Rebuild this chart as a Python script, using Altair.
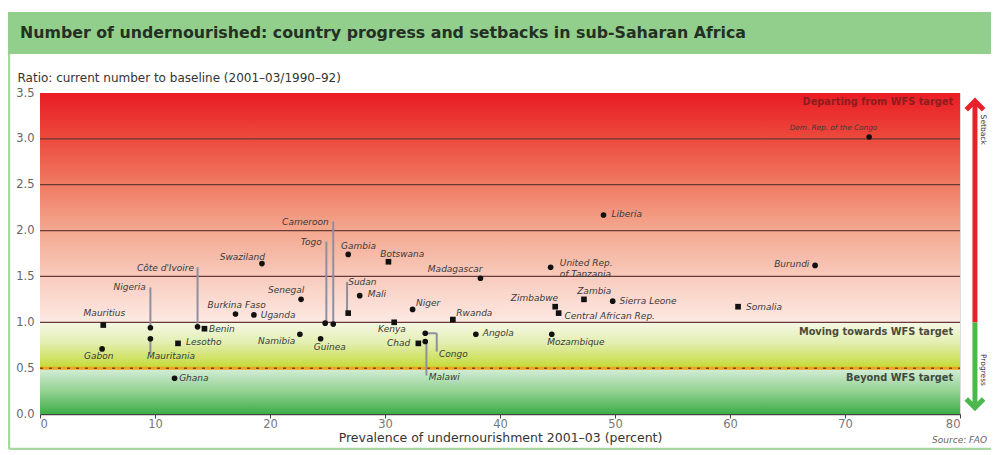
import altair as alt
import pandas as pd

# ---------------- data ----------------
countries = ["Mauritius", "Gabon", "Nigeria", "Mauritania", "Ghana", "Lesotho",
             "Côte d'Ivoire", "Benin", "Burkina Faso", "Uganda", "Swaziland",
             "Senegal", "Namibia", "Guinea", "Togo", "Cameroon", "Gambia", "Sudan",
             "Mali", "Botswana", "Kenya", "Niger", "Chad", "Congo", "Malawi",
             "Rwanda", "Angola", "Madagascar", "United Rep. of Tanzania",
             "Mozambique", "Zimbabwe", "Central African Rep.", "Zambia", "Liberia",
             "Sierra Leone", "Somalia", "Burundi", "Dem. Rep. of the Congo"]
prevalence = [5.5, 5.4, 9.6, 9.6, 11.7, 12.0, 13.7, 14.3, 17.0, 18.6, 19.3,
              22.7, 22.6, 24.4, 24.8, 25.5, 26.8, 26.8, 27.8, 30.3, 30.8, 32.4,
              32.9, 33.5, 33.5, 35.9, 37.9, 38.3, 44.4, 44.5, 44.8, 45.1, 47.3,
              49.0, 49.8, 60.7, 67.4, 72.1]
ratio = [0.97, 0.71, 0.94, 0.82, 0.39, 0.77, 0.95, 0.93, 1.09, 1.08, 1.64,
         1.25, 0.87, 0.82, 0.99, 0.98, 1.74, 1.10, 1.29, 1.66, 1.00, 1.14,
         0.77, 0.88, 0.79, 1.03, 0.87, 1.48, 1.60, 0.87, 1.17, 1.10, 1.25,
         2.17, 1.23, 1.17, 1.62, 3.02]
marker = ["square", "circle", "circle", "circle", "circle", "square",
          "circle", "square", "circle", "circle", "circle",
          "circle", "circle", "circle", "circle", "circle", "circle", "square",
          "circle", "square", "square", "circle",
          "square", "circle", "circle", "square", "circle", "circle", "circle",
          "circle", "square", "square", "square",
          "circle", "circle", "square", "circle", "circle"]

# label anchor placement (data units) for each country label
label_x = [5.6, 5.1, 9.2, 9.3, 12.1, 12.7, 13.4, 14.7, 17.1, 19.2, 17.6,
           21.4, 22.2, 25.2, 24.5, 25.1, 27.7, 26.8, 28.5, 31.5, 30.6, 32.7,
           32.2, 34.7, 33.8, 36.2, 38.5, 36.1, 45.2, 44.1, 43.0, 45.6, 48.2,
           49.7, 50.4, 61.4, 66.9, 69.0]
label_y = [1.10, 0.63, 1.38, 0.63, 0.39, 0.78, 1.59, 0.93, 1.19, 1.08, 1.71,
           1.35, 0.80, 0.73, 1.88, 2.09, 1.83, 1.44, 1.31, 1.74, 0.93, 1.21,
           0.77, 0.65, 0.40, 1.10, 0.88, 1.58, 1.645, 0.78, 1.26, 1.07, 1.34,
           2.18, 1.23, 1.17, 1.64, 3.12]
label_align = ["center", "center", "right", "left", "left", "left",
               "right", "left", "center", "left", "center",
               "center", "right", "center", "right", "right", "center", "left",
               "left", "center", "center", "left",
               "right", "left", "left", "left", "left", "center", "left",
               "left", "center", "left", "center",
               "left", "left", "left", "right", "center"]

# leader lines (x, from, to) in data units
lead_x1 = [9.6, 9.6, 13.7, 24.9, 25.5, 26.7, 34.5, 33.6, 33.5]
lead_x2 = [9.6, 9.6, 13.7, 24.9, 25.5, 26.7, 34.5, 33.6, 34.5]
lead_y1 = [1.38, 0.82, 1.60, 1.88, 2.10, 1.44, 0.88, 0.78, 0.88]
lead_y2 = [0.95, 0.66, 0.96, 1.00, 0.99, 1.10, 0.68, 0.42, 0.88]

grid_levels = [1.0, 1.5, 2.0, 2.5, 3.0]
zone_text = ["Departing from WFS target", "Moving towards WFS target", "Beyond WFS target"]
zone_y = [3.40, 0.89, 0.39]
zone_color = ["#8c1d1d", "#4a4a3c", "#3d4a3d"]

x_ticks = [0, 10, 20, 30, 40, 50, 60, 70, 80]
y_ticks = [0.0, 0.5, 1.0, 1.5, 2.0, 2.5, 3.0, 3.5]

FONT = "DejaVu Sans"

labels = [c.replace("United Rep. of Tanzania", "United Rep.\nof Tanzania") for c in countries]
pts = pd.DataFrame({"country": countries, "prev": prevalence, "ratio": ratio,
                    "marker": marker, "label": labels, "lx": label_x, "ly": label_y,
                    "align": label_align})
leads = pd.DataFrame({"x1": lead_x1, "x2": lead_x2, "y1": lead_y1, "y2": lead_y2})
grid = pd.DataFrame({"y": grid_levels})
zones = pd.DataFrame({"t": zone_text, "y": zone_y, "c": zone_color})
one = pd.DataFrame({"k": [0]})  # single row for decorative marks

xs = alt.Scale(domain=[0, 80], nice=False, zero=False)
ys = alt.Scale(domain=[0, 3.5], nice=False, zero=False)

X = lambda f: alt.X(f, type="quantitative", scale=xs,
                    axis=alt.Axis(values=x_ticks, title="Prevalence of undernourishment 2001–03 (percent)",
                                  grid=False, domain=True, domainColor="#444", domainWidth=1.5,
                                  tickColor="#444", tickSize=4, labelPadding=0,
                                  labelFont=FONT, labelFontSize=11.5, labelColor="#777",
                                  titleFont=FONT, titleFontSize=12.5, titleColor="#333",
                                  titleFontWeight="normal", titlePadding=2))
Y = lambda f: alt.Y(f, type="quantitative", scale=ys,
                    axis=alt.Axis(values=y_ticks, format=".1f", grid=False, domain=False,
                                  ticks=False, labelPadding=6, labelFont=FONT,
                                  labelFontSize=11.5, labelColor="#666",
                                  title="Ratio: current number to baseline (2001–03/1990–92)",
                                  titleAngle=0, titleAlign="left", titleBaseline="middle",
                                  titleX=-23, titleY=-16, titleFont=FONT, titleFontSize=12,
                                  titleColor="#333", titleFontWeight="normal"))


def grad(stops):
    return alt.Gradient(gradient="linear", x1=0, x2=0, y1=0, y2=1,
                        stops=[alt.GradientStop(offset=o, color=c) for o, c in stops])


base = alt.Chart(pts)
deco = alt.Chart(one)

red_zone = deco.mark_rect(fill=grad([(0, "#ea1c24"), (0.2, "#ec4a3d"), (0.4, "#f07b63"),
                                     (0.6, "#f4a890"), (0.8, "#f8cbbd"), (1, "#fde9e3")])).encode(
    x=alt.datum(0, scale=xs), x2=alt.datum(80), y=alt.datum(3.5, scale=ys), y2=alt.datum(1.0))
yel_zone = deco.mark_rect(fill=grad([(0, "#f5f8e6"), (0.45, "#e3eeb0"), (1, "#c4da34")])).encode(
    x=alt.datum(0, scale=xs), x2=alt.datum(80), y=alt.datum(1.0, scale=ys), y2=alt.datum(0.5))
grn_zone = deco.mark_rect(fill=grad([(0, "#d6eed9"), (0.5, "#93d192"), (1, "#3dae47")])).encode(
    x=alt.datum(0, scale=xs), x2=alt.datum(80), y=alt.datum(0.5, scale=ys), y2=alt.datum(0.0))

grid_rules = alt.Chart(grid).mark_rule(color="#6a3a36", strokeWidth=1.3).encode(
    y=alt.Y("y:Q", scale=ys), x=alt.datum(0, scale=xs), x2=alt.datum(80))
orange_line = deco.mark_rule(color="#f0a21e", strokeWidth=3).encode(
    y=alt.datum(0.5, scale=ys), x=alt.datum(0, scale=xs), x2=alt.datum(80))
orange_dash = deco.mark_rule(color="#7a4a14", strokeWidth=1.5, strokeDash=[3, 6]).encode(
    y=alt.datum(0.5, scale=ys), x=alt.datum(0, scale=xs), x2=alt.datum(80))

lead_rules = alt.Chart(leads).mark_rule(color="#8f8f9e", strokeWidth=2).encode(
    x=alt.X("x1:Q", scale=xs), x2="x2:Q", y=alt.Y("y1:Q", scale=ys), y2="y2:Q")

points = base.mark_point(filled=True, color="#111", size=32, opacity=1).encode(
    x=X("prev"), y=Y("ratio"),
    shape=alt.Shape("marker:N", scale=alt.Scale(domain=["circle", "square"], range=["circle", "square"]),
                    legend=None))

SMALL = "Dem. Rep. of the Congo"
label_layers = []
for al in ["left", "center", "right"]:
    sub = base.transform_filter((alt.datum.align == al) & (alt.datum.country != SMALL))
    label_layers.append(sub.mark_text(align=al, baseline="middle", font=FONT, fontSize=9,
                                      fontStyle="italic", color="#3a3a3a", lineBreak="\n").encode(
        x=alt.X("lx:Q", scale=xs), y=alt.Y("ly:Q", scale=ys), text="label:N"))
label_layers.append(base.transform_filter(alt.datum.country == SMALL).mark_text(
    align="center", baseline="middle", font=FONT, fontSize=7.3, fontStyle="italic", color="#3a3a3a").encode(
    x=alt.X("lx:Q", scale=xs), y=alt.Y("ly:Q", scale=ys), text="label:N"))

zone_labels = alt.Chart(zones).mark_text(align="right", baseline="middle", font=FONT, fontSize=9.8,
                                         fontWeight="bold").encode(
    x=alt.datum(79.4, scale=xs), y=alt.Y("y:Q", scale=ys), text="t:N",
    color=alt.Color("c:N", scale=None))

# side arrow: setback (up, red) / progress (down, green)
AX = 81.3
arrow_red = deco.mark_rule(color="#e8202a", strokeWidth=5, clip=False).encode(
    x=alt.datum(AX, scale=xs), y=alt.datum(1.0, scale=ys), y2=alt.datum(3.38))
arrow_grn = deco.mark_rule(color="#4cb84c", strokeWidth=5, clip=False).encode(
    x=alt.datum(AX, scale=xs), y=alt.datum(1.0, scale=ys), y2=alt.datum(0.10))
head_up = deco.mark_point(shape="M-1,0.45L0,-0.55L1,0.45", filled=False, size=300,
                          strokeWidth=5, color="#e8202a", opacity=1, clip=False).encode(
    x=alt.datum(AX, scale=xs), y=alt.datum(3.36, scale=ys))
head_dn = deco.mark_point(shape="M-1,-0.45L0,0.55L1,-0.45", filled=False, size=300,
                          strokeWidth=5, color="#4cb84c", opacity=1, clip=False).encode(
    x=alt.datum(AX, scale=xs), y=alt.datum(0.12, scale=ys))
side_txt = alt.Chart(pd.DataFrame({"t": ["Setback", "Progress"], "y": [3.1, 0.48]})).mark_text(
    angle=90, font=FONT, fontSize=7.5, color="#333", baseline="middle", align="center", clip=False).encode(
    x=alt.datum(82.0, scale=xs), y=alt.Y("y:Q", scale=ys), text="t:N")

# header band, frame, title, source
header = deco.mark_rect(color="#92cf8c").encode(
    x=alt.value(-32), x2=alt.value(951), y=alt.value(-81), y2=alt.value(-39))
frame_l = deco.mark_rule(color="#a6d89f", strokeWidth=2.5).encode(
    x=alt.value(-31), y=alt.value(-39), y2=alt.value(356))
frame_b = deco.mark_rule(color="#a6d89f", strokeWidth=2.5).encode(
    x=alt.value(-31), x2=alt.value(951), y=alt.value(356))
title = deco.mark_text(text="Number of undernourished: country progress and setbacks in sub-Saharan Africa",
                       align="left", baseline="middle", font=FONT, fontSize=15.8,
                       fontWeight="bold", color="#243024").encode(
    x=alt.value(-20), y=alt.value(-60))
source = deco.mark_text(text="Source: FAO", align="right", baseline="middle", font=FONT,
                        fontSize=9, fontStyle="italic", color="#666", dx=27, dy=26,
                        clip=False).encode(
    x=alt.datum(80, scale=xs), y=alt.datum(0, scale=ys))

chart = alt.layer(
    header, frame_l, frame_b,
    red_zone, yel_zone, grn_zone, grid_rules, orange_line, orange_dash,
    lead_rules, points, *label_layers, zone_labels,
    arrow_red, arrow_grn, head_up, head_dn, side_txt, title, source
).properties(
    width=920, height=321,
    autosize=alt.AutoSizeParams(type="none"),
    padding={"left": 32, "top": 85, "right": 31, "bottom": 36},
).configure_view(stroke=None).configure(background="white")

chart.save("out.html", embed_options={"renderer": "svg", "actions": False})
